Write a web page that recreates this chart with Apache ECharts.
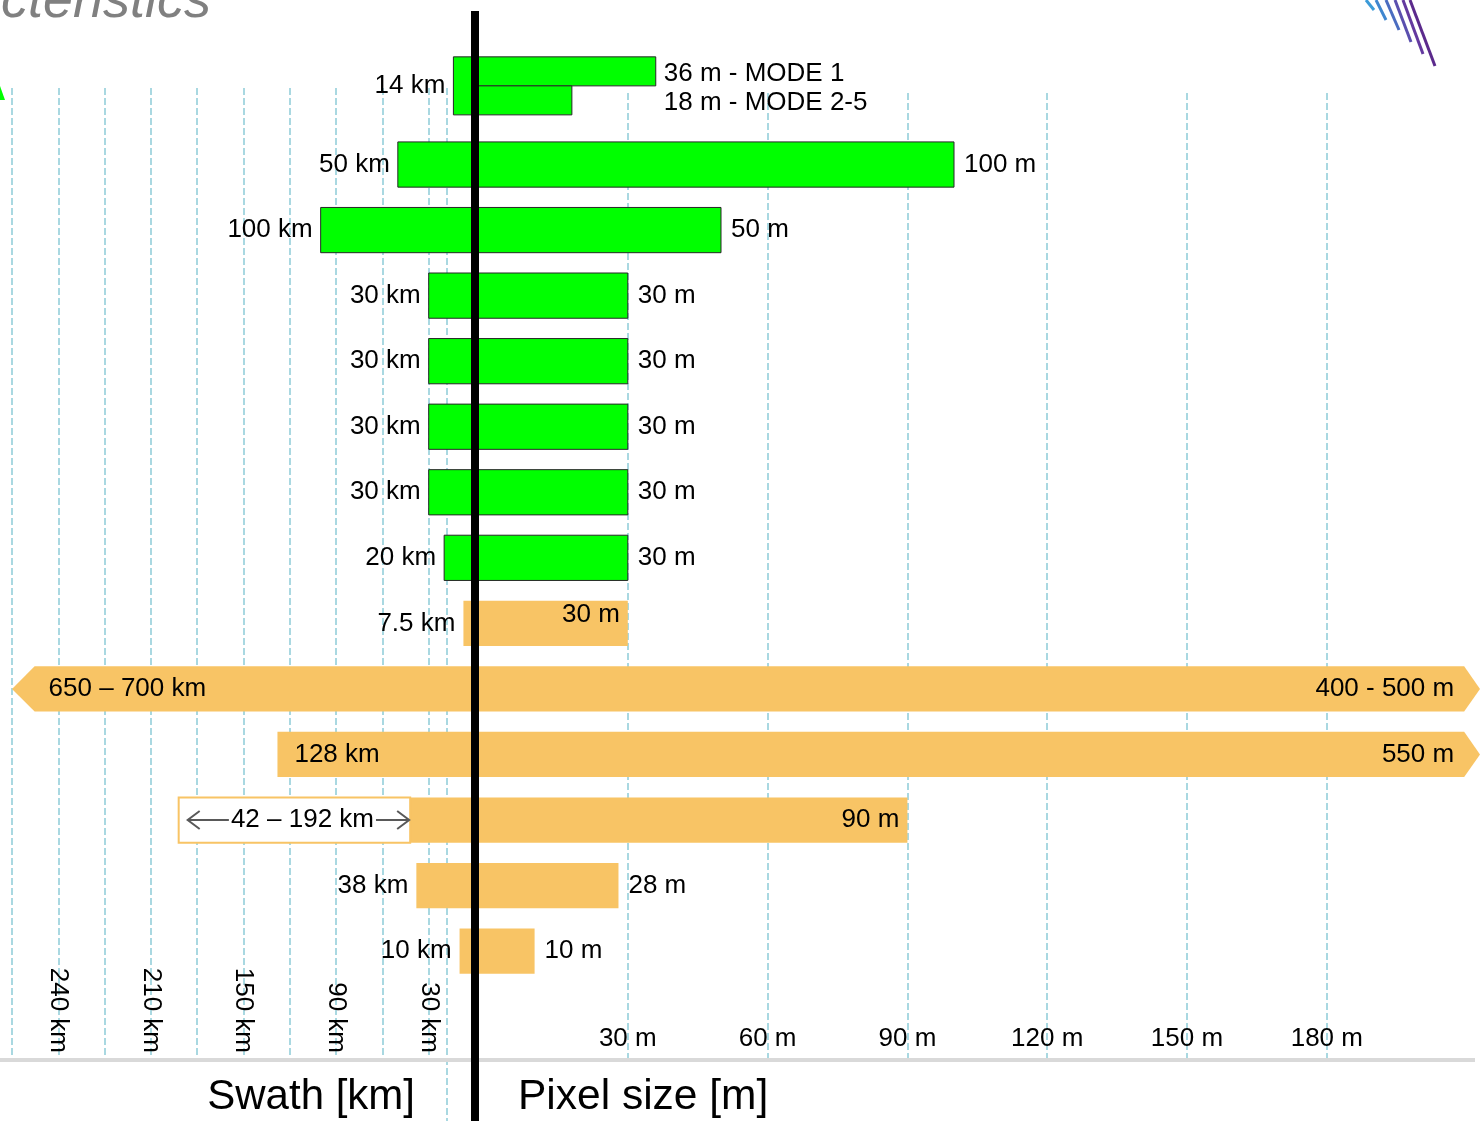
<!DOCTYPE html>
<html>
<head>
<meta charset="utf-8">
<script src="https://cdn.jsdelivr.net/npm/echarts@6/dist/echarts.min.js"></script>
<style>
html, body { margin: 0; padding: 0; background: #ffffff; }
#chart { width: 1480px; height: 1121px; }
</style>
</head>
<body>
<div id="chart"></div>
<script>
// ---------------- DATA ----------------
const rowNames = ['Row 1','Row 2','Row 3','Row 4','Row 5','Row 6','Row 7','Row 8','Row 9','Row 10','Row 11','Row 12','Row 13','Row 14'];
const rowGroup = ['A','A','A','A','A','A','A','A','B','B','B','B','B','B'];

const swathMinKm = [14, 50, 100, 30, 30, 30, 30, 20, 7.5, 650, 128, 42, 38, 10];
const swathMaxKm = [14, 50, 100, 30, 30, 30, 30, 20, 7.5, 700, 128, 192, 38, 10];
const swathText  = ['14 km','50 km','100 km','30 km','30 km','30 km','30 km','20 km','7.5 km','650 – 700 km','128 km','42 – 192 km','38 km','10 km'];

const pixelMinM = [36, 100, 50, 30, 30, 30, 30, 30, 30, 400, 550, 90, 28, 10];
const pixelMaxM = [36, 100, 50, 30, 30, 30, 30, 30, 30, 500, 550, 90, 28, 10];
const pixelText = ['36 m - MODE 1','100 m','50 m','30 m','30 m','30 m','30 m','30 m','30 m','400 - 500 m','550 m','90 m','28 m','10 m'];
const pixelSecondM    = [18, null, null, null, null, null, null, null, null, null, null, null, null, null];
const pixelSecondText = ['18 m - MODE 2-5','','','','','','','','','','','','',''];

const swathTickValues = [30, 90, 150, 210, 270];
const swathTickText   = ['30 km','90 km','150 km','210 km','240 km'];
const pixelTickValues = [30, 60, 90, 120, 150, 180];
const pixelTickText   = ['30 m','60 m','90 m','120 m','150 m','180 m'];

// ---------------- LAYOUT / STYLE ----------------
const W = 1480, H = 1121;
const CENTER_X = 475;
const LEFT_EDGE = 12;
const SWATH_AXIS_MAX = 300;
const PX_PER_M = 4.66;
const PIXEL_ZERO_X = 488;
const pixelAxisMin = -(PIXEL_ZERO_X - CENTER_X) / PX_PER_M;
const pixelAxisMax = (W - PIXEL_ZERO_X) / PX_PER_M;
const pixelLinesMax = 200;
const BAR_TOP = 66.2, ROW_H = 65.55;
const BAR_H = ROW_H * rowNames.length;
const LINES_BOTTOM = 1060;
const SPLIT_ROW_LIFT = 0.2;   // double-height row sits higher in its band

const groupFill = { A: '#00FF00', B: '#F8C465' };
const groupStroke = { A: '#262626', B: null };
const gridColor = '#A9D8E1';
const FONT = '"Liberation Sans", Arial, Helvetica, sans-serif';
const FS = 26;

function txt(text, x, y, align, extra) {
  return {
    type: 'text', z2: 20,
    style: Object.assign({
      text: text, x: x, y: y,
      align: align, textAlign: align,
      verticalAlign: 'middle', textVerticalAlign: 'middle',
      fill: '#000000', fontSize: FS, fontFamily: FONT
    }, extra || {})
  };
}
function rect(x, y, w, h, fill, stroke, lw) {
  return {
    type: 'rect', z2: 5,
    shape: { x: x, y: y, width: w, height: h },
    style: { fill: fill, stroke: stroke || null, lineWidth: stroke ? (lw || 1) : 0 }
  };
}

function renderSwath(params, api) {
  const i = params.dataIndex;
  const band = api.size([0, 1])[1];
  const c0 = api.coord([0, i]);
  const split = pixelSecondM[i] != null;
  const x0 = c0[0], yc = c0[1] - (split ? SPLIT_ROW_LIFT * band : 0);
  const xEdge = api.coord([SWATH_AXIS_MAX, i])[0];
  const lo = swathMinKm[i], hi = swathMaxKm[i];
  const g = rowGroup[i];
  const fill = groupFill[g], stroke = groupStroke[g];
  const h = band * (split ? 0.885 : 0.69);
  const top = yc - h / 2;
  const ch = [];
  if (lo > SWATH_AXIS_MAX) {
    const base = xEdge + h * 0.5;
    ch.push({ type: 'polygon', z2: 5,
      shape: { points: [[x0, top], [base, top], [xEdge, yc], [base, top + h], [x0, top + h]] },
      style: { fill: fill } });
    ch.push(txt(swathText[i], base + 14, yc, 'left'));
  } else if (lo < hi) {
    const xl = api.coord([lo, i])[0];
    const xh = api.coord([hi, i])[0];
    ch.push(rect(xl, top, x0 - xl, h, fill, stroke));
    ch.push({ type: 'rect', z2: 6, shape: { x: xh, y: top, width: xl - xh, height: h },
      style: { fill: '#ffffff', stroke: fill, lineWidth: 2 } });
    const a0 = xh + 9, a1 = xl - 1, ah = 12, aw = 9;
    const grey = '#595959';
    ch.push({ type: 'line', z2: 8, shape: { x1: a0, y1: yc, x2: a1, y2: yc }, style: { stroke: grey, lineWidth: 2 } });
    ch.push({ type: 'polyline', z2: 8, shape: { points: [[a0 + ah, yc - aw], [a0, yc], [a0 + ah, yc + aw]] }, style: { stroke: grey, lineWidth: 2, fill: null } });
    ch.push({ type: 'polyline', z2: 8, shape: { points: [[a1 - ah, yc - aw], [a1, yc], [a1 - ah, yc + aw]] }, style: { stroke: grey, lineWidth: 2, fill: null } });
    ch.push(txt(swathText[i], (xh + xl) / 2 + 8, yc, 'center', { backgroundColor: '#ffffff', padding: [2, 2] }));
  } else {
    const xv = api.coord([hi, i])[0];
    ch.push(rect(xv, top, x0 - xv, h, fill, stroke));
    if (g === 'B' && hi >= 100) {
      ch.push(txt(swathText[i], xv + 17, yc, 'left'));
    } else {
      ch.push(txt(swathText[i], xv - 8, yc, 'right'));
    }
  }
  return { type: 'group', children: ch };
}

function renderPixel(params, api) {
  const i = params.dataIndex;
  const band = api.size([0, 1])[1];
  const split = pixelSecondM[i] != null;
  const yc = api.coord([0, i])[1] - (split ? SPLIT_ROW_LIFT * band : 0);
  const xs = api.coord([pixelAxisMin, i])[0];
  const xe = api.coord([pixelAxisMax, i])[0];
  const g = rowGroup[i];
  const fill = groupFill[g], stroke = groupStroke[g];
  const hi = pixelMaxM[i];
  const ch = [];
  if (split) {
    const hh = band * 0.4425;
    const x1 = api.coord([hi, i])[0];
    const x2 = api.coord([pixelSecondM[i], i])[0];
    ch.push(rect(xs, yc - hh, x1 - xs, hh, fill, stroke));
    ch.push(rect(xs, yc, x2 - xs, hh, fill, stroke));
    const lx = Math.max(x1, x2) + 8;
    ch.push(txt(pixelText[i], lx, yc - hh / 2 + 2, 'left'));
    ch.push(txt(pixelSecondText[i], lx, yc + hh / 2 + 2, 'left'));
    return { type: 'group', children: ch };
  }
  const h = band * 0.69;
  const top = yc - h / 2;
  if (hi > pixelAxisMax) {
    const base = xe - h * 0.35;
    ch.push({ type: 'polygon', z2: 5,
      shape: { points: [[xs, top], [base, top], [xe, yc], [base, top + h], [xs, top + h]] },
      style: { fill: fill } });
    ch.push(txt(pixelText[i], base - 10, yc, 'right'));
  } else {
    const xv = api.coord([hi, i])[0];
    ch.push(rect(xs, top, xv - xs, h, fill, stroke));
    if (g === 'B' && hi >= 30) {
      ch.push(txt(pixelText[i], xv - 8, yc - (hi <= 30 ? 9 : 0), 'right'));
    } else {
      ch.push(txt(pixelText[i], xv + 10, yc, 'left'));
    }
  }
  return { type: 'group', children: ch };
}

const chart = echarts.init(document.getElementById('chart'), null, { renderer: 'canvas', width: W, height: H });

const splitStyle = { show: true, lineStyle: { color: gridColor, width: 2, type: [7, 3] } };

const option = {
  backgroundColor: '#ffffff',
  animation: false,
  grid: [
    { left: LEFT_EDGE, width: CENTER_X - LEFT_EDGE, top: 88, height: LINES_BOTTOM - 88, outerBoundsMode: 'none', containLabel: false },
    { left: PIXEL_ZERO_X, width: pixelLinesMax * PX_PER_M, top: 93, height: LINES_BOTTOM - 93, outerBoundsMode: 'none', containLabel: false },
    { left: LEFT_EDGE, width: CENTER_X - LEFT_EDGE, top: BAR_TOP, height: BAR_H, outerBoundsMode: 'none', containLabel: false },
    { left: CENTER_X, width: W - CENTER_X, top: BAR_TOP, height: BAR_H, outerBoundsMode: 'none', containLabel: false }
  ],
  xAxis: [
    { gridIndex: 0, type: 'value', inverse: true, min: 0, max: SWATH_AXIS_MAX, interval: 30,
      axisLine: { show: false }, axisTick: { show: false },
      splitLine: Object.assign({ showMinLine: false, showMaxLine: true }, splitStyle),
      axisLabel: { inside: true, rotate: -90, margin: 7, color: '#000', fontSize: FS, fontFamily: FONT,
        formatter: function (v) { const k = swathTickValues.indexOf(v); return k >= 0 ? swathTickText[k] : ''; } } },
    { gridIndex: 1, type: 'value', min: 0, max: pixelLinesMax, interval: 30,
      axisLine: { show: false }, axisTick: { show: false },
      splitLine: Object.assign({ showMinLine: false, showMaxLine: false }, splitStyle),
      axisLabel: { inside: true, margin: 8, color: '#000', fontSize: FS, fontFamily: FONT,
        formatter: function (v) { const k = pixelTickValues.indexOf(v); return k >= 0 ? pixelTickText[k] : ''; } } },
    { gridIndex: 2, type: 'value', inverse: true, min: 0, max: SWATH_AXIS_MAX, show: false },
    { gridIndex: 3, type: 'value', min: pixelAxisMin, max: pixelAxisMax, show: false }
  ],
  yAxis: [
    { gridIndex: 0, type: 'value', min: 0, max: 1, show: false },
    { gridIndex: 1, type: 'value', min: 0, max: 1, show: false },
    { gridIndex: 2, type: 'category', data: rowNames, inverse: true, show: false },
    { gridIndex: 3, type: 'category', data: rowNames, inverse: true, show: false }
  ],
  series: [
    { name: 'Swath [km]', type: 'custom', xAxisIndex: 2, yAxisIndex: 2, z: 3,
      encode: { x: 0, y: 1 },
      data: rowNames.map(function (n, i) { return [swathMaxKm[i], i]; }),
      renderItem: renderSwath },
    { name: 'Pixel size [m]', type: 'custom', xAxisIndex: 3, yAxisIndex: 3, z: 3,
      encode: { x: 0, y: 1 },
      data: rowNames.map(function (n, i) { return [pixelMaxM[i], i]; }),
      renderItem: renderPixel }
  ],
  graphic: [
    { type: 'text', z: 50, x: 211, y: 2,
      style: { text: 'cteristics', align: 'right', textAlign: 'right', verticalAlign: 'middle', textVerticalAlign: 'middle',
        fill: '#808080', font: 'italic 54px "Liberation Sans", Arial, sans-serif' } },
    { type: 'polygon', z: 50, shape: { points: [[0, 86], [5, 100], [0, 100]] }, style: { fill: '#00FF00' } },
    { type: 'line', z: 50, shape: { x1: 1366, y1: 0, x2: 1374, y2: 10 }, style: { stroke: '#3C9BD8', lineWidth: 3 } },
    { type: 'line', z: 50, shape: { x1: 1376, y1: 0, x2: 1386, y2: 20 }, style: { stroke: '#3F86CF', lineWidth: 3 } },
    { type: 'line', z: 50, shape: { x1: 1386, y1: 0, x2: 1399, y2: 30 }, style: { stroke: '#4A6CC0', lineWidth: 3 } },
    { type: 'line', z: 50, shape: { x1: 1395, y1: 0, x2: 1411, y2: 42 }, style: { stroke: '#5A4FAE', lineWidth: 3 } },
    { type: 'line', z: 50, shape: { x1: 1403, y1: 0, x2: 1423, y2: 54 }, style: { stroke: '#63399F', lineWidth: 3 } },
    { type: 'line', z: 50, shape: { x1: 1410, y1: 0, x2: 1435, y2: 66 }, style: { stroke: '#5B2A8C', lineWidth: 3 } },
    { type: 'line', z: 1, shape: { x1: 447, y1: 88, x2: 447, y2: H }, style: { stroke: gridColor, lineWidth: 2, lineDash: [7, 3] } },
    { type: 'rect', z: 40, shape: { x: 0, y: 1058, width: 1475, height: 4 }, style: { fill: '#D9D9D9' } },
    { type: 'rect', z: 60, shape: { x: 471, y: 11, width: 8, height: H - 11 }, style: { fill: '#000000' } },
    { type: 'text', z: 50, x: 415, y: 1097,
      style: { text: 'Swath [km]', align: 'right', textAlign: 'right', verticalAlign: 'middle', textVerticalAlign: 'middle',
        fill: '#000', font: '42px "Liberation Sans", Arial, sans-serif' } },
    { type: 'text', z: 50, x: 518, y: 1097,
      style: { text: 'Pixel size [m]', align: 'left', textAlign: 'left', verticalAlign: 'middle', textVerticalAlign: 'middle',
        fill: '#000', font: '42.5px "Liberation Sans", Arial, sans-serif' } }
  ]
};
chart.setOption(option);
</script>
</body>
</html>
